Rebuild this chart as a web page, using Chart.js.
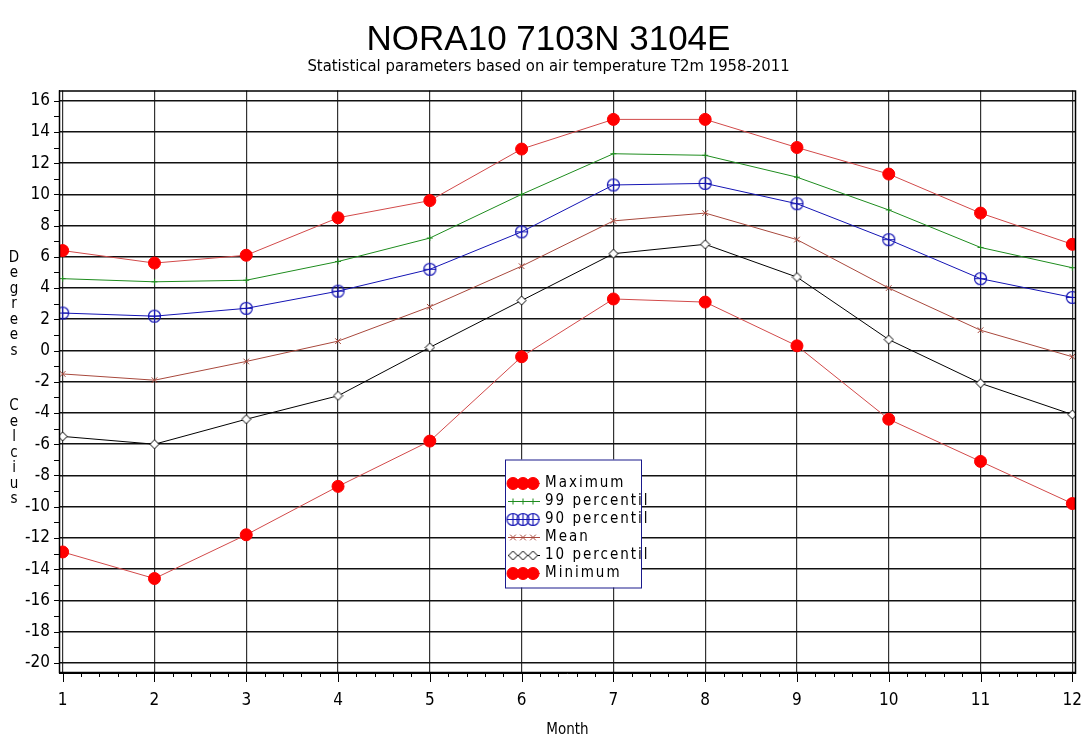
<!DOCTYPE html>
<html>
<head>
<meta charset="utf-8">
<script src="https://cdn.jsdelivr.net/npm/chart.js@4/dist/chart.umd.min.js"></script>
<style>
  html, body { margin: 0; padding: 0; background: #fff; }
</style>
</head>
<body>
<canvas id="chart" width="1084" height="749"></canvas>
<script>
const months = [1, 2, 3, 4, 5, 6, 7, 8, 9, 10, 11, 12];
const maximum = [6.4, 5.6, 6.1, 8.5, 9.6, 12.9, 14.8, 14.8, 13.0, 11.3, 8.8, 6.8];
const p99 = [4.6, 4.4, 4.5, 5.7, 7.2, 10.0, 12.6, 12.5, 11.1, 9.0, 6.6, 5.3];
const p90 = [2.4, 2.2, 2.7, 3.8, 5.2, 7.6, 10.6, 10.7, 9.4, 7.1, 4.6, 3.4];
const mean = [-1.5, -1.9, -0.7, 0.6, 2.8, 5.4, 8.3, 8.8, 7.1, 4.0, 1.3, -0.4];
const p10 = [-5.5, -6.0, -4.4, -2.9, 0.2, 3.2, 6.2, 6.8, 4.7, 0.7, -2.1, -4.1];
const minimum = [-12.9, -14.6, -11.8, -8.7, -5.8, -0.4, 3.3, 3.1, 0.3, -4.4, -7.1, -9.8];

const seriesNames = ["Maximum", "99 percentil", "90 percentil", "Mean", "10 percentil", "Minimum"];
const titleText = "NORA10 7103N 3104E";
const subtitleText = "Statistical parameters based on air temperature T2m 1958-2011";
const yTitleWords = ["Degrees", "Celcius"];
const xTitle = "Month";
const yLow = -20, yHigh = 16;

const narrow = "'Liberation Sans Narrow', 'DejaVu Sans Condensed', sans-serif";

// little canvases used as point styles for the symbols chart.js lacks
function makeMarker(size, draw) {
  const c = document.createElement("canvas");
  c.width = size;
  c.height = size;
  draw(c.getContext("2d"), size / 2);
  return c;
}
const circlePlus = makeMarker(15, (g, c) => {
  g.strokeStyle = "#1414b4";
  g.lineWidth = 1.2;
  g.beginPath();
  g.arc(c, c, 6, 0, Math.PI * 2);
  g.moveTo(c - 6, c); g.lineTo(c + 6, c);
  g.moveTo(c, c - 6); g.lineTo(c, c + 6);
  g.stroke();
});
const diamond = makeMarker(11, (g, c) => {
  g.fillStyle = "#fff";
  g.strokeStyle = "#000";
  g.lineWidth = 1;
  g.beginPath();
  g.moveTo(c, c - 4.5); g.lineTo(c + 4.5, c); g.lineTo(c, c + 4.5); g.lineTo(c - 4.5, c);
  g.closePath();
  g.fill();
  g.stroke();
});

function series(label, values, line, point) {
  return Object.assign({
    label,
    data: months.map((m, i) => ({ x: m, y: values[i] })),
    borderColor: line,
    borderWidth: 1,
    tension: 0,
  }, point);
}

const datasets = [
  series(seriesNames[0], maximum, "#d24a4a", { pointStyle: "circle", pointRadius: 6, pointBackgroundColor: "#ff0000", pointBorderColor: "#ff0000" }),
  series(seriesNames[1], p99, "#1e8c1e", { pointStyle: "cross", pointRadius: 3, pointBorderColor: "#1e8c1e" }),
  series(seriesNames[2], p90, "#1414b4", { pointStyle: circlePlus, pointRadius: 7 }),
  series(seriesNames[3], mean, "#a8483c", { pointStyle: "crossRot", pointRadius: 4, pointBorderColor: "#a8483c" }),
  series(seriesNames[4], p10, "#000000", { pointStyle: diamond, pointRadius: 5 }),
  series(seriesNames[5], minimum, "#d24a4a", { pointStyle: "circle", pointRadius: 6, pointBackgroundColor: "#ff0000", pointBorderColor: "#ff0000" }),
];

// frame on top/right, tick marks outside the plot, vertical axis title
const frameAndTicks = {
  id: "frameAndTicks",
  afterDraw(chart) {
    const { ctx, chartArea: a, scales: { x, y } } = chart;
    ctx.save();
    ctx.strokeStyle = "#000";
    ctx.lineWidth = 1.5;
    ctx.strokeRect(a.left + 0.5, a.top + 0.5, a.right - a.left - 1, a.bottom - a.top - 1);
    ctx.lineWidth = 1;
    ctx.beginPath();
    for (let i = months[0] * 5; i <= months[months.length - 1] * 5; i++) {
      const px = Math.round(x.getPixelForValue(i / 5)) + 0.5;
      ctx.moveTo(px, a.bottom);
      ctx.lineTo(px, a.bottom + (i % 5 === 0 ? 9 : 4));
    }
    for (let v = yLow; v <= yHigh; v++) {
      const py = Math.round(y.getPixelForValue(v)) + 0.5;
      ctx.moveTo(a.left, py);
      ctx.lineTo(a.left - 5, py);
    }
    ctx.stroke();

    ctx.fillStyle = "#000";
    ctx.font = "15px " + narrow;
    ctx.textAlign = "center";
    ctx.textBaseline = "middle";
    let ty = 258;
    yTitleWords.forEach((w, k) => {
      if (k > 0) ty += 40;
      for (const ch of w) {
        ctx.fillText(ch, 14, ty);
        ty += 15.5;
      }
    });
    ctx.restore();
  },
};

const boxLegend = {
  id: "boxLegend",
  afterDatasetsDraw(chart) {
    const { ctx, chartArea: a } = chart;
    const left = a.left + 446, top = a.top + 369, w = 136, h = 128;
    ctx.save();
    ctx.fillStyle = "#fff";
    ctx.fillRect(left, top, w, h);
    ctx.strokeStyle = "#1a1a8c";
    ctx.lineWidth = 1;
    ctx.strokeRect(left + 0.5, top + 0.5, w, h);
    chart.data.datasets.forEach((ds, i) => {
      const ry = top + 24 + i * 18;
      ctx.strokeStyle = ds.borderColor;
      ctx.beginPath();
      ctx.moveTo(left + 3, ry);
      ctx.lineTo(left + 35, ry);
      ctx.stroke();
      ctx.fillStyle = ds.pointBackgroundColor || "#fff";
      ctx.strokeStyle = ds.pointBorderColor || ds.borderColor;
      for (let k = 0; k < 3; k++) {
        Chart.helpers.drawPoint(ctx, {
          pointStyle: ds.pointStyle, radius: ds.pointRadius, rotation: 0, borderWidth: 1,
        }, left + 8 + k * 10, ry);
      }
      ctx.fillStyle = "#000";
      ctx.font = "15px " + narrow;
      ctx.textAlign = "left";
      ctx.textBaseline = "middle";
      ctx.letterSpacing = "2px";
      ctx.fillText(ds.label, left + 40, ry);
      ctx.letterSpacing = "0px";
    });
    ctx.restore();
  },
};

new Chart(document.getElementById("chart"), {
  type: "line",
  data: { datasets },
  options: {
    responsive: false,
    animation: false,
    layout: { padding: { left: 16, right: 3 } },
    plugins: {
      legend: { display: false },
      tooltip: { enabled: false },
      title: {
        display: true,
        text: titleText,
        color: "#000",
        font: { family: "'Liberation Sans', Arial, sans-serif", size: 35, weight: "normal", lineHeight: 1 },
        padding: { top: 23, bottom: 0 },
      },
      subtitle: {
        display: true,
        text: subtitleText,
        color: "#000",
        font: { family: narrow, size: 16.5, lineHeight: 1 },
        padding: { top: 0, bottom: 16 },
      },
    },
    scales: {
      x: {
        type: "linear",
        min: 0.96,
        max: 12.04,
        afterBuildTicks: (scale) => { scale.ticks = months.map(v => ({ value: v })); },
        afterFit: (scale) => {
          scale.height = 76;
          scale.paddingLeft = 0;
          scale.paddingRight = 0;
        },
        grid: { color: "#333", lineWidth: 1.2, drawTicks: false },
        border: { display: true, color: "#000" },
        ticks: { color: "#000", padding: 17, maxRotation: 0, font: { family: narrow, size: 17 } },
        title: { display: true, text: xTitle, color: "#000", font: { family: narrow, size: 15 }, padding: { top: 0, bottom: 10 } },
      },
      y: {
        min: -20.65,
        max: 16.65,
        afterBuildTicks: (scale) => {
          const t = [];
          for (let v = yLow; v <= yHigh; v++) t.push({ value: v });
          scale.ticks = t;
        },
        afterFit: (scale) => { scale.width = 43; },
        grid: { color: "#111", lineWidth: 1.6, drawTicks: false },
        border: { display: true, color: "#000" },
        ticks: {
          color: "#000",
          padding: 9,
          font: { family: narrow, size: 17 },
          callback: (v) => (v % 2 === 0 ? String(v) : ""),
        },
      },
    },
  },
  plugins: [boxLegend, frameAndTicks],
});
</script>
</body>
</html>
